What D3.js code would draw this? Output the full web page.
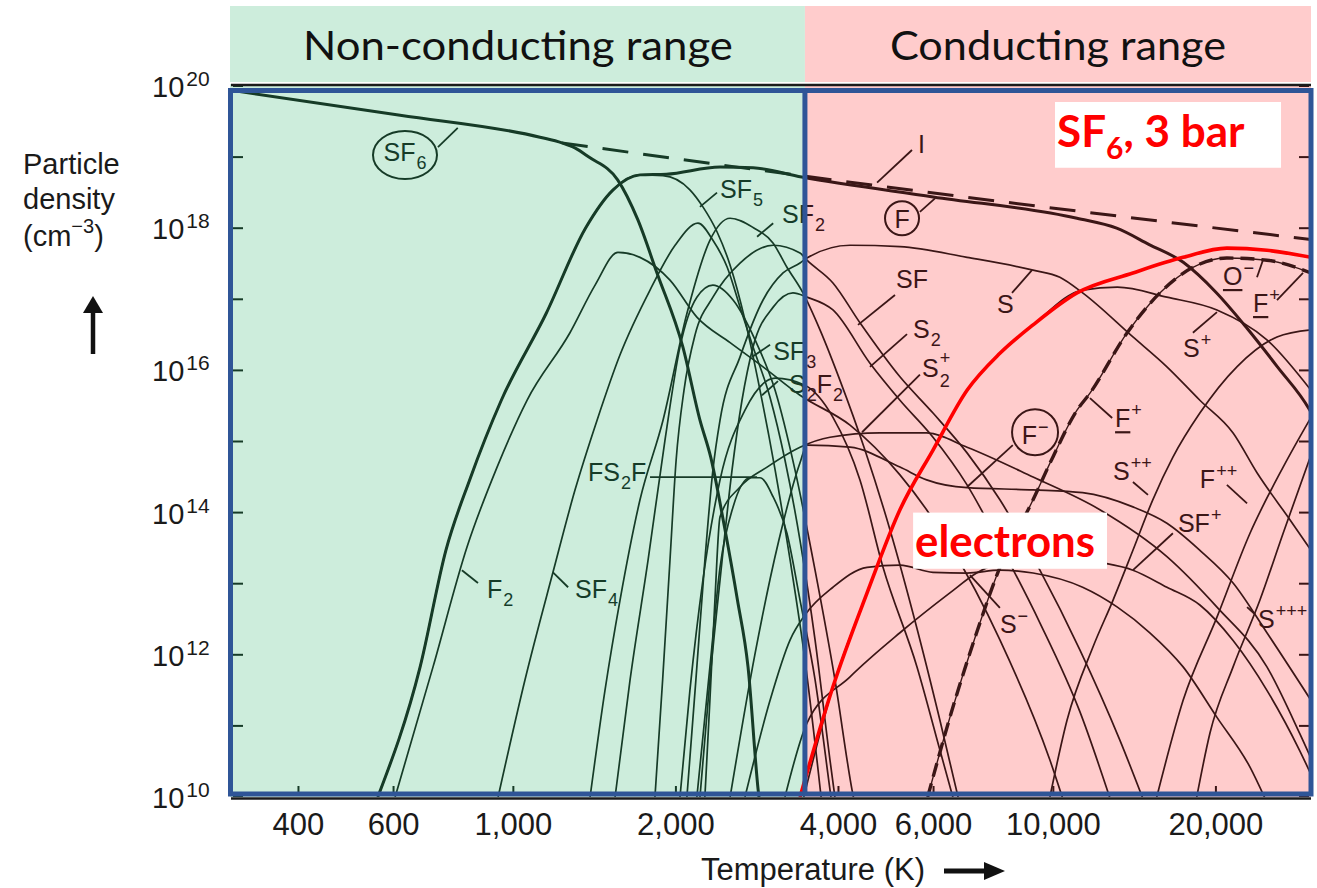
<!DOCTYPE html>
<html><head><meta charset="utf-8">
<script src="https://cdn.jsdelivr.net/npm/d3@7/dist/d3.min.js"></script>
<style>html,body{margin:0;padding:0;background:#fff;}svg{display:block;}</style>
</head><body>
<svg id="chart" width="1317" height="888"></svg>
<script>
// ================= DATA =================
const regionTitles = ["Non-conducting range", "Conducting range"];
const boundaryT = 3467;              // K, border between the two ranges
const tempTicks = [400, 600, 1000, 2000, 4000, 6000, 10000, 20000];
const tempTickLabels = ["400", "600", "1,000", "2,000", "4,000", "6,000", "10,000", "20,000"];
const densityTickExps = [10, 11, 12, 13, 14, 15, 16, 17, 18, 19, 20];
const densityLabelExps = [10, 12, 14, 16, 18, 20];

// species curves: [temperature K, log10(particle density / cm^-3)]
const sf6 = [[300,19.94],[617,19.59],[1120,19.28],[1230,19.2],[1300,19.13],[1380,19.0],[1560,18.68],[1700,18.12],[1845,17.37],[2060,16.33],[2216,15.3],[2320,14.78],[2460,13.8],[2600,12.77],[2720,11.83],[2840,10.1],[2870,9.8]];
const fAtom = [[561,10.0],[672,11.83],[750,13.47],[830,14.46],[950,15.58],[1150,16.8],[1360,18.0],[1530,18.54],[1716,18.75],[1920,18.76],[2414,18.86],[2780,18.85],[3420,18.72],[5990,18.44],[11060,18.14],[13100,18.0],[15050,17.77],[17400,17.52],[20000,17.1],[22800,16.6],[26000,16.05],[29800,15.45],[31500,15.1]];
const totalDensity = [[1230,19.2],[3395,18.74],[30000,17.84]];
const f2 = [[604,10.0],[710,11.83],[821,13.52],[933,14.64],[1060,15.58],[1273,16.53],[1417,17.2],[1562,17.66],[1716,17.59],[1950,17.27],[2187,16.75],[2520,16.39],[2900,16.05],[3395,15.65],[4202,15.23],[5199,14.53],[6433,13.54],[7962,12.21],[9854,10.52],[10500,9.89]];
const sf5 = [[561,10.0],[672,11.83],[750,13.47],[830,14.46],[950,15.58],[1150,16.8],[1360,18.0],[1530,18.54],[1716,18.75],[1893,18.74],[2123,18.54],[2244,18.3],[2383,17.95],[2520,17.48],[2685,16.71],[2863,15.72],[3053,14.6],[3255,13.33],[3467,11.93],[3667,10.38],[3728,9.89]];
const sf4 = [[937,10.0],[1051,11.65],[1184,13.16],[1301,14.32],[1429,15.3],[1576,16.22],[1791,17.13],[1993,17.76],[2197,18.07],[2342,17.83],[2489,17.45],[2629,16.89],[2779,16.33],[2988,15.62],[3184,14.74],[3395,13.61],[3620,12.21],[3858,10.52],[3957,9.89]];
const sf2 = [[1387,10.0],[1478,11.5],[1576,12.77],[1716,14.18],[1893,15.3],[2096,16.8],[2312,17.83],[2520,18.14],[2779,18.01],[3028,17.79],[3211,17.45],[3438,17.09],[3697,16.57],[4026,15.86],[4478,14.88],[4982,13.76],[5538,12.49],[6165,11.08],[6714,9.89]];
const sf3 = [[1543,10.0],[1645,11.65],[1776,13.33],[1909,15.02],[2035,16.33],[2187,17.03],[2342,17.2],[2552,16.99],[2803,16.43],[3053,15.72],[3323,14.6],[3620,13.19],[3940,11.65],[4238,10.1],[4290,9.89]];
const sf = [[1829,10.0],[1890,11.65],[1950,13.33],[2002,14.74],[2070,15.72],[2170,16.5],[2342,17.03],[2629,17.51],[3028,17.76],[3395,17.65],[3497,17.55],[3907,17.23],[4384,16.67],[5199,15.91],[5986,15.4],[6921,14.84],[7962,14.18],[9442,13.19],[11197,12.07],[13279,10.8],[14800,9.89]];
const sAtom = [[2096,10.0],[2178,11.65],[2263,13.33],[2342,14.6],[2414,15.3],[2629,16.19],[2900,16.99],[3158,17.37],[3395,17.51],[3497,17.58],[4202,17.76],[5199,17.74],[6921,17.59],[9171,17.41],[10282,17.31],[11330,17.09],[14040,16.47],[16230,16.05],[18677,15.58],[21520,15.12],[23830,14.56],[27420,13.9],[30000,13.47]];
const s2 = [[2216,10.0],[2312,11.65],[2414,13.05],[2541,14.6],[2651,15.58],[2779,16.33],[3028,16.89],[3295,17.09],[3497,17.03],[3907,16.85],[4575,16.1],[5199,15.58],[5986,15.06],[6921,14.39],[7962,13.55],[9442,12.45],[11197,11.2],[12850,9.89]];
const fs2f = [[2187,10.0],[2312,11.83],[2414,13.23],[2552,14.08],[2743,14.49],[2863,14.49],[3028,14.22],[3211,13.71],[3395,12.77],[3620,11.65],[3858,10.1],[3891,9.89]];
const s2f2 = [[2035,10.0],[2123,11.5],[2244,13.05],[2414,14.46],[2685,15.44],[3053,15.89],[3467,15.79],[3907,15.34],[4384,14.46],[4837,13.23],[5591,11.83],[6165,10.66],[6574,9.89]];
const s2Plus = [[2263,10.0],[2312,11.36],[2362,12.77],[2414,13.94],[2629,14.36],[2950,14.64],[3395,14.92],[3858,15.06],[4774,15.12],[5826,15.12],[6921,14.92],[9171,14.5],[12194,14.04],[16230,13.38],[20090,12.67],[24860,11.83],[28600,10.89],[31000,10.3]];
const fMinus = [[2520,10.0],[2800,12.0],[3100,13.6],[3395,14.7],[3497,14.95],[4202,14.92],[5199,14.64],[5826,14.46],[6921,14.35],[9171,14.32],[11330,14.28],[14040,14.08],[16230,13.85],[18677,13.47],[21520,13.01],[24860,12.31],[30000,11.36]];
const sMinus = [[2685,10.0],[2988,11.36],[3255,12.21],[3467,12.56],[3907,12.95],[4519,13.23],[5199,13.26],[5986,13.16],[6921,13.15],[7962,13.19],[9171,13.15],[11330,12.95],[13140,12.67],[15090,12.31],[17390,11.83],[20090,11.12],[23130,10.42],[24970,9.89]];
const sfPlus = [[3184,10.0],[3497,11.04],[4202,11.69],[5199,12.31],[6433,12.87],[7209,13.15],[7962,13.3],[9171,13.4],[10600,13.37],[12194,13.3],[14040,13.19],[16230,12.95],[18677,12.7],[21520,12.2],[24860,11.5],[28600,10.65],[31800,9.89]];
const sPlus = [[3450,10.0],[3907,11.55],[4519,12.87],[5199,14.04],[5986,14.88],[6921,15.72],[7962,16.24],[9171,16.64],[11330,17.13],[13140,17.17],[16230,17.03],[20090,16.85],[24860,16.43],[30000,15.72]];
const fPlus = [[5851,10.0],[6433,11.12],[7209,12.31],[7962,13.23],[9171,14.18],[9978,14.78],[11061,15.44],[11690,15.68],[13700,16.53],[15748,17.09],[18130,17.45],[20960,17.58],[24860,17.55],[30000,17.37]];
const sPP = [[9854,10.0],[10600,11.08],[11840,12.11],[12900,12.77],[14040,13.47],[15280,14.18],[16650,14.78],[18677,15.4],[21870,16.05],[25950,16.47],[30000,16.57]];
const fPP = [[15540,10.0],[17390,11.36],[20090,12.53],[23130,13.71],[26640,14.64],[30000,15.34]];
const sPPP = [[18430,10.0],[19500,10.9],[21520,11.83],[24130,12.77],[26640,13.71],[30000,14.81]];
const electrons = [[3395,10.0],[3907,11.55],[4519,12.87],[5199,14.04],[5986,14.88],[6921,15.72],[7962,16.24],[9171,16.64],[11061,17.09],[14040,17.37],[17390,17.59],[20960,17.72],[24860,17.69],[30000,17.59]];

// curve labels: anchor [T, log10 n], parts [text, kind, underline]
const curveLabels = [
  {parts:[["SF","n"],["6","sub"]], shape:{type:"ellipse", at:[630,19.03], rx:32, ry:24}, leader:[[725,19.14],[789,19.41]]},
  {parts:[["SF","n"],["5","sub"]], at:[2414,18.42], leader:[[2216,18.30],[2383,18.50]]},
  {parts:[["SF","n"],["2","sub"]], at:[3144,18.07], leader:[[2827,17.88],[3028,18.07]]},
  {parts:[["SF","n"],["3","sub"]], at:[3028,16.15], leader:[[2767,16.19],[2988,16.36]]},
  {parts:[["S","n"],["2","sub"],["F","n"],["2","sub"]], at:[3241,15.68], leader:[[2887,15.65],[3091,15.85]]},
  {parts:[["FS","n"],["2","sub"],["F","n"]], at:[1375,14.44], leader:[[1791,14.50],[2827,14.50]]},
  {parts:[["F","n"],["2","sub"]], at:[894,12.80], leader:[[803,13.19],[860,13.01]]},
  {parts:[["SF","n"],["4","sub"]], at:[1301,12.80], leader:[[1184,13.16],[1263,12.95]]},
  {parts:[["I","n"]], at:[5615,19.06], leader:[[4716,18.64],[5473,19.10]]},
  {parts:[["F","n"]], shape:{type:"circle", at:[5245,18.14], r:17}, leader:[[5661,18.23],[6037,18.42]]},
  {parts:[["SF","n"]], at:[5113,17.16], leader:[[4348,16.64],[5090,17.06]]},
  {parts:[["S","n"]], at:[7864,16.81], leader:[[8383,17.09],[9130,17.41]]},
  {parts:[["S","n"],["2","sub"]], at:[5499,16.46], leader:[[4575,16.05],[5358,16.51]]},
  {parts:[["S","n"],[["+","2"],"stack"]], at:[5712,15.91], leader:[[4423,15.13],[5661,15.94]]},
  {parts:[["F","n"],["\u2212","sup"]], shape:{type:"circle", at:[9249,15.13], r:23}, leader:[[6921,14.36],[8412,14.95]]},
  {parts:[["F","n",true],["+","sup"]], at:[13010,15.20], leader:[[11690,15.61],[12850,15.33]]},
  {parts:[["S","n"],["++","sup"]], at:[12900,14.46], leader:[[14040,14.43],[14970,14.25]]},
  {parts:[["F","n"],["++","sup"]], at:[18677,14.35], leader:[[20960,14.39],[22840,14.13]]},
  {parts:[["SF","n"],["+","sup"]], at:[17010,13.73], leader:[[14040,13.19],[16650,13.71]]},
  {parts:[["S","n"],["\u2212","sup"]], at:[7962,12.31], leader:[[7007,13.12],[7962,12.66]]},
  {parts:[["S","n"],["+++","sup"]], at:[23930,12.38], leader:[[22840,12.67],[23630,12.57]]},
  {parts:[["S","n"],["+","sup"]], at:[17390,16.19], leader:[[18130,16.53],[20090,16.82]]},
  {parts:[["O","n",true],["\u2212","sup"]], at:[20610,17.20], leader:[[23830,17.31],[24440,17.55]]},
  {parts:[["F","n",true],["+","sup"]], at:[23430,16.82], leader:[[25950,16.99],[29000,17.37]]}
];
// red callouts: box corners [T, log10 n], text anchor
const calloutTitle = {box:[[10070,19.775],[26400,18.85]], at:[10160,19.14]};
const calloutElectrons = {box:[[5499,14.0],[12570,13.21]], at:[5545,13.38], text:"electrons"};

// ================= DRAWING =================
const svg = d3.select("#chart");
const x = d3.scaleLog().domain([300, 30000]).range([231, 1311]);
const y = d3.scaleLog().domain([1e10, 1e20]).range([797, 86]);
const Y = e => y(Math.pow(10, e));
const xL = x(300), xR = x(30000), xB = x(boundaryT);
const yBot = Y(10);

const GREEN_BG = "#cdeddc", PINK_BG = "#ffcccc";
const GREEN_INK = "#163b27", PINK_INK = "#3b1616";
const FONT = "'Liberation Sans', Arial, Helvetica, sans-serif";
const PPT_FONT = "Lato, 'Open Sans', sans-serif";

const defs = svg.append("defs");
const grad = defs.append("linearGradient").attr("id", "ink").attr("gradientUnits", "userSpaceOnUse")
  .attr("x1", xL).attr("x2", xR).attr("y1", 0).attr("y2", 0);
const off = (xB - xL) / (xR - xL);
grad.append("stop").attr("offset", 0).attr("stop-color", GREEN_INK);
grad.append("stop").attr("offset", off).attr("stop-color", GREEN_INK);
grad.append("stop").attr("offset", off).attr("stop-color", PINK_INK);
grad.append("stop").attr("offset", 1).attr("stop-color", PINK_INK);
const INK = "url(#ink)";

defs.append("clipPath").attr("id", "clipAll").append("rect")
  .attr("x", xL).attr("y", 84).attr("width", xR - xL).attr("height", yBot - 84);

// backgrounds
svg.append("rect").attr("x", xL - 1).attr("y", 6).attr("width", xB - xL + 1).attr("height", 76).attr("fill", GREEN_BG);
svg.append("rect").attr("x", xB).attr("y", 6).attr("width", xR - xB).attr("height", 76).attr("fill", PINK_BG);
svg.append("rect").attr("x", xL - 1).attr("y", 84).attr("width", xB - xL + 1).attr("height", yBot - 84).attr("fill", GREEN_BG);
svg.append("rect").attr("x", xB).attr("y", 84).attr("width", xR - xB).attr("height", yBot - 84).attr("fill", PINK_BG);

// band titles
svg.append("text").attr("x", (xL + xB) / 2).attr("y", 60).attr("text-anchor", "middle")
  .attr("font-family", PPT_FONT).attr("font-size", 40).attr("fill", "#111")
  .attr("textLength", 430).attr("lengthAdjust", "spacingAndGlyphs").text(regionTitles[0]);
svg.append("text").attr("x", (xB + xR) / 2).attr("y", 60).attr("text-anchor", "middle")
  .attr("font-family", PPT_FONT).attr("font-size", 40).attr("fill", "#111")
  .attr("textLength", 336).attr("lengthAdjust", "spacingAndGlyphs").text(regionTitles[1]);

const line = d3.line().x(d => x(d[0])).y(d => Y(d[1])).curve(d3.curveMonotoneX);

const curves = [
  {d: sf6, w: 3}, {d: fAtom, w: 3}, {d: totalDensity, w: 3, dash: "26,15"},
  {d: f2, w: 1.7}, {d: sf5, w: 1.7}, {d: sf4, w: 1.7}, {d: sf2, w: 1.7}, {d: sf3, w: 1.7},
  {d: sf, w: 1.7}, {d: sAtom, w: 1.7}, {d: s2, w: 1.7}, {d: fs2f, w: 1.7}, {d: s2f2, w: 1.7},
  {d: s2Plus, w: 1.7}, {d: fMinus, w: 1.7}, {d: sMinus, w: 1.7}, {d: sfPlus, w: 1.7},
  {d: sPlus, w: 1.7}, {d: electrons, w: 1.7}, {d: fPlus, w: 1.4}, {d: fPlus, w: 3.4, dash: "14,7"},
  {d: sPP, w: 1.7}, {d: fPP, w: 1.7}, {d: sPPP, w: 1.7}
];

const plot = svg.append("g").attr("clip-path", "url(#clipAll)");
curves.forEach(c => {
  plot.append("path").attr("d", line(c.d)).attr("fill", "none").attr("stroke", INK)
    .attr("stroke-width", c.w).attr("stroke-dasharray", c.dash || null)
    .attr("stroke-linejoin", "round");
});

// one <text> per label, parts as tspans
function drawLabel(g, a) {
  const t = g.append("text").attr("x", 0).attr("y", 0)
    .attr("font-family", FONT).attr("font-size", 25).attr("fill", INK);
  let cur = 0, ulW = null;
  a.parts.forEach(([txt, kind, under]) => {
    if (kind === "n") {
      const s = t.append("tspan").attr("dy", -cur).attr("font-size", 25).text(txt);
      if (under) ulW = s.node().getComputedTextLength();
      cur = 0;
    } else if (kind === "sub") {
      t.append("tspan").attr("dx", 1).attr("dy", 8 - cur).attr("font-size", 18).text(txt);
      cur = 8;
    } else if (kind === "sup") {
      t.append("tspan").attr("dx", 1).attr("dy", -11 - cur).attr("font-size", 18).text(txt);
      cur = -11;
    } else if (kind === "stack") {
      const s1 = t.append("tspan").attr("dx", 1).attr("dy", -13 - cur).attr("font-size", 18).text(txt[0]);
      const w1 = s1.node().getComputedTextLength();
      t.append("tspan").attr("dx", -w1).attr("dy", 23).attr("font-size", 18).text(txt[1]);
      cur = 10;
    }
  });
  let tx, ty;
  if (a.shape) {
    const sx = x(a.shape.at[0]), sy = Y(a.shape.at[1]);
    const bb = t.node().getBBox();
    tx = sx - (bb.x + bb.width / 2); ty = sy - (bb.y + bb.height / 2) + 1;
    if (a.shape.type === "ellipse") {
      g.append("ellipse").attr("cx", sx).attr("cy", sy).attr("rx", a.shape.rx).attr("ry", a.shape.ry)
        .attr("fill", "none").attr("stroke", INK).attr("stroke-width", 2);
    } else {
      g.append("circle").attr("cx", sx).attr("cy", sy).attr("r", a.shape.r)
        .attr("fill", "none").attr("stroke", INK).attr("stroke-width", 2);
    }
  } else {
    tx = x(a.at[0]); ty = Y(a.at[1]);
  }
  t.attr("x", tx).attr("y", ty);
  if (ulW !== null) {
    g.append("line").attr("x1", tx).attr("x2", tx + ulW).attr("y1", ty + 5).attr("y2", ty + 5)
      .attr("stroke", INK).attr("stroke-width", 2.2);
  }
  if (a.leader) {
    g.append("line").attr("x1", x(a.leader[0][0])).attr("y1", Y(a.leader[0][1]))
      .attr("x2", x(a.leader[1][0])).attr("y2", Y(a.leader[1][1]))
      .attr("stroke", INK).attr("stroke-width", 1.8);
  }
}
curveLabels.forEach(a => drawLabel(plot, a));

// inner ticks
densityTickExps.forEach(e => {
  plot.append("line").attr("x1", xL + 2).attr("x2", xL + 12).attr("y1", Y(e)).attr("y2", Y(e))
    .attr("stroke", GREEN_INK).attr("stroke-width", 2);
  plot.append("line").attr("x1", xR - 12).attr("x2", xR - 2).attr("y1", Y(e)).attr("y2", Y(e))
    .attr("stroke", PINK_INK).attr("stroke-width", 2);
});
tempTicks.forEach(t => {
  plot.append("line").attr("x1", x(t)).attr("x2", x(t)).attr("y1", yBot - 2).attr("y2", yBot - 11)
    .attr("stroke", t < boundaryT ? GREEN_INK : PINK_INK).attr("stroke-width", 2);
});

// red electron curve
plot.append("path")
  .attr("d", line(electrons)).attr("fill", "none").attr("stroke", "#ff0000")
  .attr("stroke-width", 3.6).attr("stroke-linejoin", "round");

// callout boxes
function box(b) {
  const x0 = x(b[0][0]), y0 = Y(b[0][1]), x1 = x(b[1][0]), y1 = Y(b[1][1]);
  svg.append("rect").attr("x", x0).attr("y", y0).attr("width", x1 - x0).attr("height", y1 - y0).attr("fill", "#fff");
}
box(calloutTitle.box);
box(calloutElectrons.box);
const tt = svg.append("text").attr("x", x(calloutTitle.at[0])).attr("y", Y(calloutTitle.at[1]))
  .attr("font-family", PPT_FONT).attr("font-weight", 700).attr("font-size", 44).attr("fill", "#ff0000");
tt.append("tspan").text("SF");
tt.append("tspan").attr("font-size", 30).attr("dy", 12).text("6");
tt.append("tspan").attr("dy", -12).text(", 3 bar");
svg.append("text").attr("x", x(calloutElectrons.at[0])).attr("y", Y(calloutElectrons.at[1]))
  .attr("font-family", PPT_FONT).attr("font-weight", 700).attr("font-size", 44).attr("fill", "#ff0000")
  .attr("textLength", 180).attr("lengthAdjust", "spacingAndGlyphs").text(calloutElectrons.text);

// original black frame lines
svg.append("line").attr("x1", xL).attr("x2", xR).attr("y1", 85).attr("y2", 85).attr("stroke", "#1b1b1b").attr("stroke-width", 2.5);
svg.append("line").attr("x1", xL).attr("x2", xR).attr("y1", 798.5).attr("y2", 798.5).attr("stroke", "#1b1b1b").attr("stroke-width", 2.5);

// blue frames
const BLUE = "#2f5597";
svg.append("rect").attr("x", xL - 0.5).attr("y", 90.5).attr("width", xR - xL + 0.5).attr("height", 794 - 90.5)
  .attr("fill", "none").attr("stroke", BLUE).attr("stroke-width", 5);
svg.append("line").attr("x1", xB).attr("x2", xB).attr("y1", 90.5).attr("y2", 794)
  .attr("stroke", BLUE).attr("stroke-width", 5);

// y axis labels
densityLabelExps.forEach(e => {
  const yy = Y(e) + 11;
  const t = svg.append("text").attr("x", 152).attr("y", yy)
    .attr("font-family", FONT).attr("font-size", 29).attr("fill", "#1a1a1a");
  t.append("tspan").text("10");
  t.append("tspan").attr("font-size", 21).attr("dx", 2).attr("dy", -11).text(String(e));
});
// x axis labels
tempTicks.forEach((t, i) => {
  svg.append("text").attr("x", x(t)).attr("y", 835).attr("text-anchor", "middle")
    .attr("font-family", FONT).attr("font-size", 31).attr("fill", "#1a1a1a").text(tempTickLabels[i]);
});
// axis titles
const yt = svg.append("g").attr("font-family", FONT).attr("font-size", 29).attr("fill", "#1a1a1a");
yt.append("text").attr("x", 23).attr("y", 174).text("Particle");
yt.append("text").attr("x", 23).attr("y", 209).text("density");
const cm = yt.append("text").attr("x", 23).attr("y", 246);
cm.append("tspan").text("(cm");
cm.append("tspan").attr("font-size", 20).attr("dy", -13).text("\u22123");
cm.append("tspan").attr("dy", 13).text(")");
// up arrow
svg.append("line").attr("x1", 93).attr("x2", 93).attr("y1", 354).attr("y2", 310).attr("stroke", "#111").attr("stroke-width", 4.5);
svg.append("path").attr("d", "M83,313 L103,313 L93,296 Z").attr("fill", "#111");
// x title
svg.append("text").attr("x", 701).attr("y", 880).attr("font-family", FONT).attr("font-size", 31)
  .attr("fill", "#1a1a1a").text("Temperature (K)");
svg.append("line").attr("x1", 944).attr("x2", 988).attr("y1", 871).attr("y2", 871).attr("stroke", "#111").attr("stroke-width", 5);
svg.append("path").attr("d", "M984,862 L1005,871 L984,880 Z").attr("fill", "#111");
</script>
</body></html>
